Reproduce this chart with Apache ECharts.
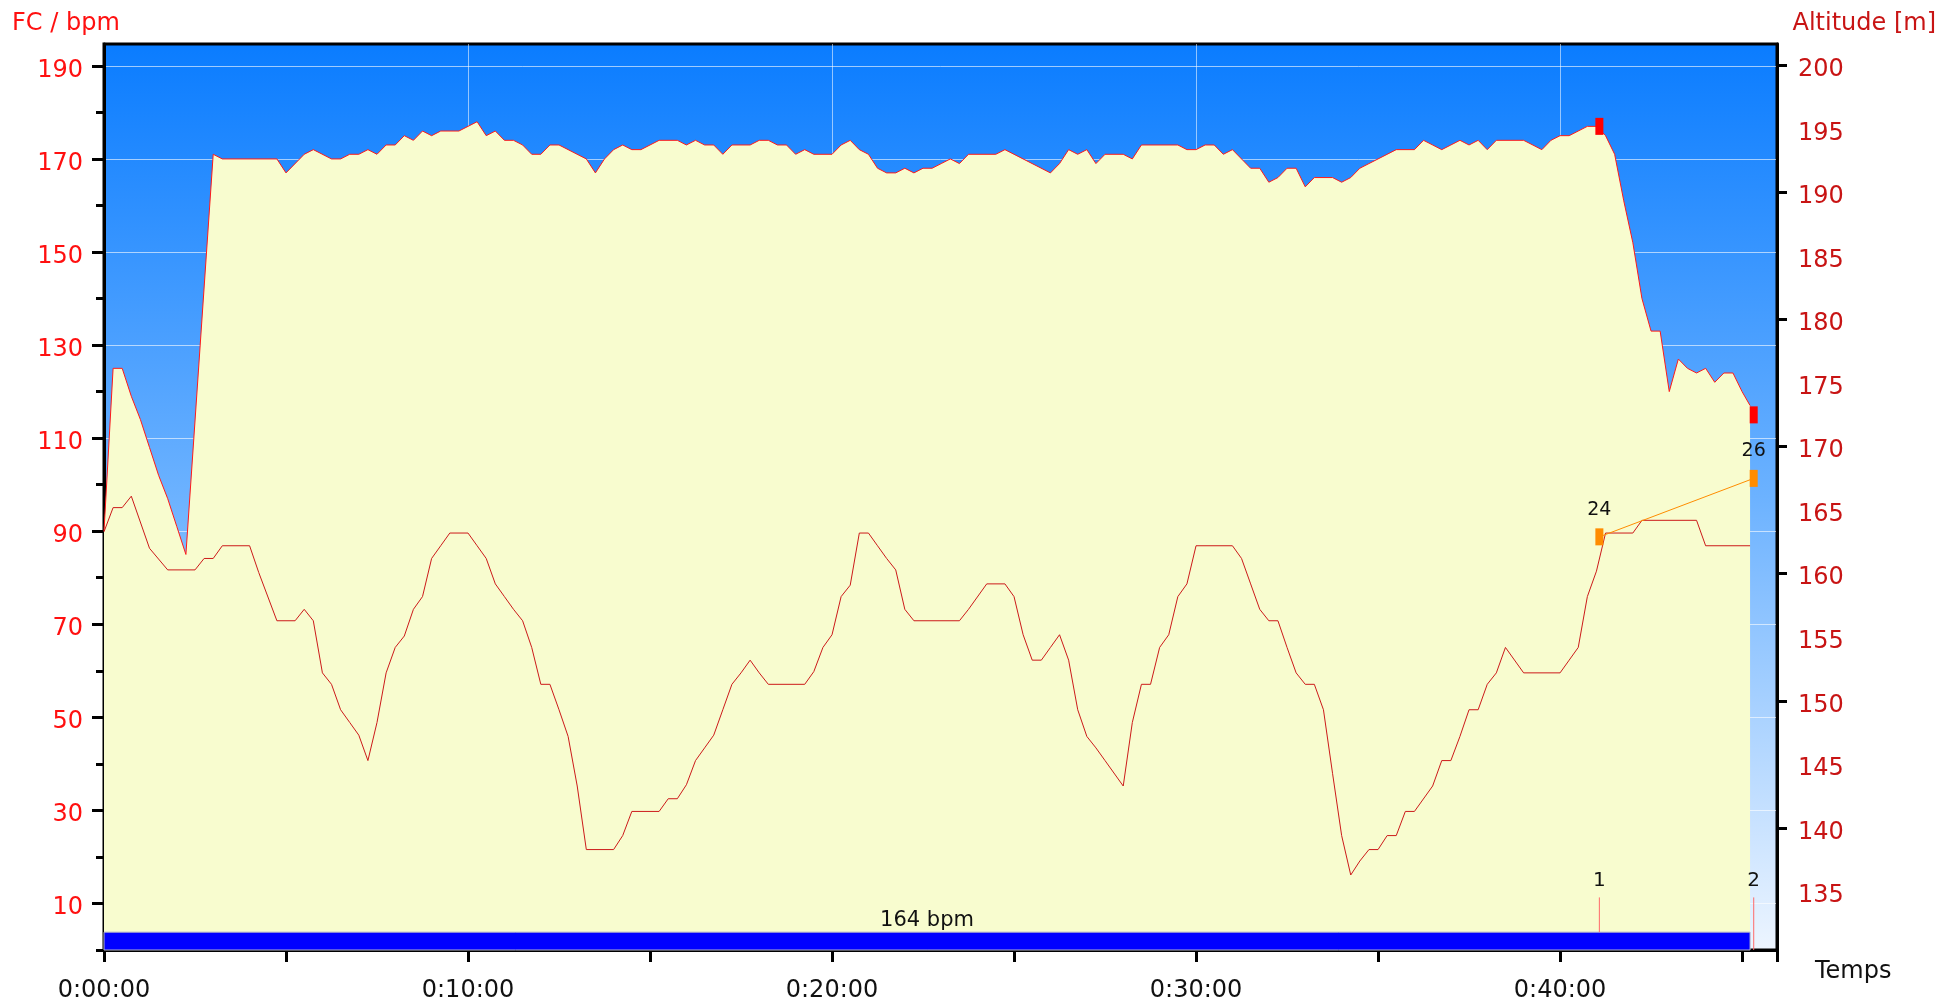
<!DOCTYPE html>
<html>
<head>
<meta charset="utf-8">
<script src="https://cdn.jsdelivr.net/npm/echarts@6/dist/echarts.min.js"></script>
<style>
html,body{margin:0;padding:0;background:#fff;}
#chart{width:1942px;height:1003px;}
</style>
</head>
<body>
<div id="chart"></div>
<script>
// ---- data (time in minutes, value) ----
const heartRate = [
[0,90],[0.25,125],[0.5,125],[0.75,119],[1,114],[1.25,108],[1.5,102],[1.75,97],[2,91],[2.25,85],
[3,171],[3.25,170],[4.75,170],[5,167],[5.5,171],[5.75,172],[6.25,170],[6.5,170],[6.75,171],[7,171],
[7.25,172],[7.5,171],[7.75,173],[8,173],[8.25,175],[8.5,174],[8.75,176],[9,175],[9.25,176],[9.75,176],
[10.25,178],[10.5,175],[10.75,176],[11,174],[11.25,174],[11.5,173],[11.75,171],[12,171],[12.25,173],[12.5,173],
[12.75,172],[13.25,170],[13.5,167],[13.75,170],[14,172],[14.25,173],[14.5,172],[14.75,172],[15.25,174],[15.75,174],
[16,173],[16.25,174],[16.5,173],[16.75,173],[17,171],[17.25,173],[17.75,173],[18,174],[18.25,174],[18.5,173],
[18.75,173],[19,171],[19.25,172],[19.5,171],[20,171],[20.25,173],[20.5,174],[20.75,172],[21,171],[21.25,168],
[21.5,167],[21.75,167],[22,168],[22.25,167],[22.5,168],[22.75,168],[23,169],[23.25,170],[23.5,169],[23.75,171],
[24.5,171],[24.75,172],[26,167],[26.25,169],[26.5,172],[26.75,171],[27,172],[27.25,169],[27.5,171],[28,171],
[28.25,170],[28.5,173],[29.5,173],[29.75,172],[30,172],[30.25,173],[30.5,173],[30.75,171],[31,172],[31.5,168],
[31.75,168],[32,165],[32.25,166],[32.5,168],[32.75,168],[33,164],[33.25,166],[33.75,166],[34,165],[34.25,166],
[34.5,168],[34.75,169],[35,170],[35.5,172],[36,172],[36.25,174],[36.5,173],[36.75,172],[37,173],[37.25,174],
[37.5,173],[37.75,174],[38,172],[38.25,174],[39,174],[39.5,172],[39.75,174],[40,175],[40.25,175],[40.75,177],
[41,177],[41.25,175],[41.5,171],[41.75,161],[42,152],[42.25,140],[42.5,133],[42.75,133],[43,120],[43.25,127],
[43.5,125],[43.75,124],[44,125],[44.25,122],[44.5,124],[44.75,124],[45,120],[45.22,117]
];
const altitude = [
[0,163.3],[0.25,165.2],[0.5,165.2],[0.75,166.1],[1.25,162.0],[1.75,160.3],[2.5,160.3],[2.75,161.2],[3,161.2],[3.25,162.2],
[4,162.2],[4.25,160.1],[4.75,156.3],[5.25,156.3],[5.5,157.2],[5.75,156.3],[6,152.2],[6.25,151.3],[6.5,149.3],[6.75,148.3],
[7,147.3],[7.25,145.3],[7.5,148.3],[7.75,152.2],[8,154.2],[8.25,155.1],[8.5,157.2],[8.75,158.2],[9,161.2],[9.25,162.2],
[9.5,163.2],[10,163.2],[10.25,162.2],[10.5,161.2],[10.75,159.2],[11,158.2],[11.25,157.2],[11.5,156.3],[11.75,154.2],[12,151.3],
[12.25,151.3],[12.5,149.3],[12.75,147.2],[13,143.3],[13.25,138.3],[14,138.3],[14.25,139.4],[14.5,141.3],[15.25,141.3],[15.5,142.3],
[15.75,142.3],[16,143.4],[16.25,145.3],[16.5,146.3],[16.75,147.3],[17,149.3],[17.25,151.3],[17.5,152.2],[17.75,153.2],[18,152.2],
[18.25,151.3],[19.25,151.3],[19.5,152.3],[19.75,154.2],[20,155.2],[20.25,158.2],[20.5,159.1],[20.75,163.2],[21,163.2],[21.25,162.2],
[21.5,161.2],[21.75,160.3],[22,157.2],[22.25,156.3],[23.5,156.3],[23.75,157.2],[24.25,159.2],[24.75,159.2],[25,158.2],[25.25,155.2],
[25.5,153.2],[25.75,153.2],[26,154.2],[26.25,155.2],[26.5,153.2],[26.75,149.3],[27,147.2],[27.25,146.3],[27.5,145.3],[28,143.3],
[28.25,148.3],[28.5,151.3],[28.75,151.3],[29,154.2],[29.25,155.2],[29.5,158.2],[29.75,159.2],[30,162.2],[31,162.2],[31.25,161.2],
[31.5,159.2],[31.75,157.2],[32,156.3],[32.25,156.3],[32.5,154.2],[32.75,152.2],[33,151.3],[33.25,151.3],[33.5,149.3],[33.75,144.3],
[34,139.4],[34.25,136.3],[34.5,137.4],[34.75,138.3],[35,138.3],[35.25,139.4],[35.5,139.4],[35.75,141.3],[36,141.3],[36.5,143.3],
[36.75,145.3],[37,145.3],[37.25,147.2],[37.5,149.3],[37.75,149.3],[38,151.3],[38.25,152.2],[38.5,154.2],[39,152.2],[40,152.2],
[40.25,153.2],[40.5,154.2],[40.75,158.2],[41,160.2],[41.25,163.2],[42,163.2],[42.25,164.2],[43.75,164.2],[44,162.2],[45.22,162.2]
];
// lap markers (minutes)
const lapTimes = [41.08, 45.32];
const lapNames = ['1', '2'];
const lapHrMarks = [177, 115];          // red markers on HR curve (bpm)
const extraMarks = [162.9, 167.5];      // orange markers (right axis)
const extraLabels = ['24', '26'];
const avgLabel = '164 bpm';
const avgBar = [[0, 45.22, 0, 3.84]];   // [start min, end min, bottom bpm, top bpm]
const lapLineTop = 11.3;
const lapLineBottom = [3.84, 0];

// axes
const xMaxMin = 45.96;
const bpmMax = 194.7;
const altMin = 130.4, altMax = 201.67;
const bpmLabels = [10,30,50,70,90,110,130,150,170,190];
const bpmMinor = [0,20,40,60,80,100,120,140,160,180];
const altLabels = [135,140,145,150,155,160,165,170,175,180,185,190,195,200];
const altTicks = [140,150,160,170,180,190,200];
const xLabelMin = [0,10,20,30,40];
const xTickMin = [0,5,10,15,20,25,30,35,40,45];

const FONT = '"DejaVu Sans", Verdana, sans-serif';
const sec = m => Math.round(m * 60 * 100) / 100;
const xMax = sec(xMaxMin);

function fmtTime(v) {
  const s = Math.round(v);
  const h = Math.floor(s / 3600), m = Math.floor((s % 3600) / 60), ss = s % 60;
  return h + ':' + String(m).padStart(2, '0') + ':' + String(ss).padStart(2, '0');
}

const hrData = heartRate.map(p => [sec(p[0]), p[1]]);
const altData = altitude.map(p => [sec(p[0]), p[1]]);
const barData = avgBar.map(b => [sec(b[0]), sec(b[1]), b[2], b[3]]);

const lapLineData = [];
lapTimes.forEach((t, i) => {
  if (i > 0) lapLineData.push('-');
  lapLineData.push({value: [sec(t), lapLineBottom[i]], label: {show: false}});
  lapLineData.push({value: [sec(t), lapLineTop], label: {show: true, formatter: lapNames[i]}});
});

const chart = echarts.init(document.getElementById('chart'), null, {renderer: 'canvas'});
chart.setOption({
  animation: false,
  backgroundColor: '#ffffff',
  textStyle: {fontFamily: FONT},
  grid: {
    left: 104, right: 165, top: 44, bottom: 52,
    show: true, borderColor: '#000', borderWidth: 3,
    backgroundColor: {
      type: 'linear', x: 0, y: 0, x2: 0, y2: 1,
      colorStops: [
        {offset: 0, color: '#0a7cff'},
        {offset: 0.5, color: '#6cb2ff'},
        {offset: 1, color: '#edf5ff'}
      ]
    }
  },
  graphic: [
    {type: 'text', left: 12, top: 12, style: {text: 'FC / bpm', fill: '#ff1010', font: '24px ' + FONT}},
    {type: 'text', right: 6, top: 12, style: {text: 'Altitude [m]', fill: '#c81414', font: '24px ' + FONT}}
  ],
  xAxis: [
    {
      type: 'value', min: 0, max: xMax, position: 'bottom',
      name: 'Temps', nameLocation: 'end', nameGap: 38,
      nameTextStyle: {color: '#111', fontSize: 24, fontFamily: FONT, align: 'left', verticalAlign: 'top', padding: [10, 0, 0, 0]},
      axisLine: {show: true, onZero: false, lineStyle: {color: '#000', width: 3}},
      axisTick: {show: true, customValues: xTickMin.map(sec).concat([xMax]), length: 12, lineStyle: {color: '#000', width: 3}},
      axisLabel: {customValues: xLabelMin.map(sec), formatter: fmtTime, color: '#111', fontSize: 24, fontFamily: FONT, margin: 29},
      splitLine: {show: false}
    },
    {
      type: 'value', min: 0, max: xMax, interval: 600, position: 'bottom',
      axisLine: {show: false}, axisTick: {show: false}, axisLabel: {show: false},
      splitLine: {show: true, lineStyle: {color: 'rgba(255,255,255,0.55)', width: 1}}
    }
  ],
  yAxis: [
    {
      type: 'value', min: 0, max: bpmMax, position: 'left',
      axisLine: {show: true, onZero: false, lineStyle: {color: '#000', width: 3}},
      axisTick: {show: true, customValues: bpmMinor, length: 8, lineStyle: {color: '#000', width: 3}},
      axisLabel: {show: false},
      splitLine: {show: false}
    },
    {
      type: 'value', min: altMin, max: altMax, position: 'right',
      axisLine: {show: true, onZero: false, lineStyle: {color: '#000', width: 3}},
      axisTick: {show: true, customValues: altTicks, length: 10, lineStyle: {color: '#000', width: 3}},
      axisLabel: {customValues: altLabels, color: '#c81414', fontSize: 24, fontFamily: FONT, margin: 21,
        verticalAlign: 'top', lineHeight: 9},
      splitLine: {show: false}
    },
    {
      type: 'value', min: 0, max: bpmMax, position: 'left', offset: 0,
      axisLine: {show: false},
      axisTick: {show: true, customValues: bpmLabels, length: 12, lineStyle: {color: '#000', width: 3}},
      axisLabel: {customValues: bpmLabels, color: '#ff1010', fontSize: 24, fontFamily: FONT, margin: 21,
        verticalAlign: 'top', lineHeight: 9},
      splitLine: {show: true, lineStyle: {color: 'rgba(255,255,255,0.6)', width: 1}}
    }
  ],
  series: [
    {
      name: 'FC', type: 'line', xAxisIndex: 0, yAxisIndex: 0, data: hrData,
      symbol: 'none', z: 2,
      lineStyle: {color: '#ff1a1a', width: 1},
      areaStyle: {color: '#f8fccf', opacity: 1, origin: 'start'}
    },
    {
      name: 'Altitude', type: 'line', xAxisIndex: 0, yAxisIndex: 1, data: altData,
      symbol: 'none', z: 3,
      lineStyle: {color: '#cc1a1a', width: 1}
    },
    {
      name: 'avg', type: 'custom', xAxisIndex: 0, yAxisIndex: 0, z: 5,
      data: barData,
      encode: {x: [0, 1], y: [2, 3]},
      renderItem: function (params, api) {
        const p0 = api.coord([api.value(0), api.value(3)]);
        const p1 = api.coord([api.value(1), api.value(2)]);
        return {
          type: 'group',
          children: [
            {type: 'rect', shape: {x: p0[0], y: p0[1], width: p1[0] - p0[0], height: p1[1] - p0[1]},
              style: {fill: '#0000ff', stroke: '#b4b4c8', lineWidth: 1}},
            {type: 'text', style: {text: avgLabel, x: (p0[0] + p1[0]) / 2, y: p0[1] - 1,
              align: 'center', verticalAlign: 'bottom', fill: '#111', font: '21px ' + FONT}}
          ]
        };
      }
    },
    {
      name: 'laps', type: 'line', xAxisIndex: 0, yAxisIndex: 0, data: lapLineData,
      symbol: 'circle', symbolSize: 1, showSymbol: true, showAllSymbol: true, z: 6, connectNulls: false,
      itemStyle: {color: 'rgba(0,0,0,0)'},
      lineStyle: {color: '#ff6a6a', width: 1},
      label: {show: false, position: 'top', distance: 6, color: '#111', fontSize: 20, fontFamily: FONT}
    },
    {
      name: 'marks', type: 'scatter', xAxisIndex: 0, yAxisIndex: 0,
      data: lapTimes.map((t, i) => [sec(t), lapHrMarks[i]]),
      symbol: 'rect', symbolSize: [8, 17], z: 7,
      itemStyle: {color: '#ff0000', opacity: 1}
    },
    {
      name: 'extra', type: 'line', xAxisIndex: 0, yAxisIndex: 1,
      data: lapTimes.map((t, i) => [sec(t), extraMarks[i]]),
      symbol: 'rect', symbolSize: [8, 17], showAllSymbol: true, z: 7,
      itemStyle: {color: '#ff8c00', opacity: 1},
      lineStyle: {color: '#ff8c00', width: 1},
      label: {show: true, position: 'top', distance: 9, color: '#111', fontSize: 19, fontFamily: FONT,
        formatter: p => extraLabels[p.dataIndex]}
    }
  ]
});
</script>
</body>
</html>
